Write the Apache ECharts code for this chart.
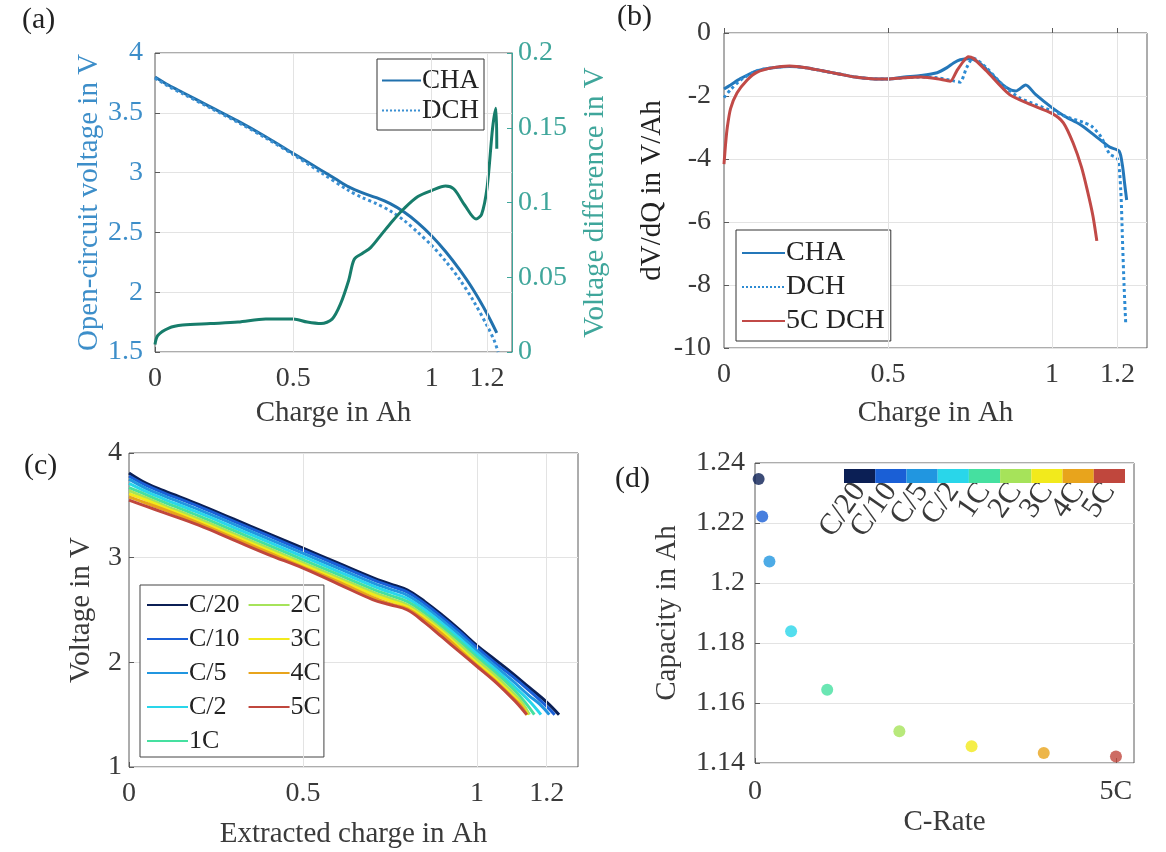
<!DOCTYPE html>
<html>
<head>
<meta charset="utf-8">
<script src="https://cdn.jsdelivr.net/npm/echarts@6/dist/echarts.min.js"></script>
<style>html,body{margin:0;padding:0;background:#fff}#c{width:1166px;height:852px}</style>
</head>
<body>
<div id="c"></div>
<script>
// ---------- Panel (a): open-circuit voltage and voltage difference ----------
const ocvCHA = [[0,3.80],[0.05,3.73],[0.1,3.67],[0.2,3.55],[0.3,3.43],[0.4,3.30],[0.5,3.16],[0.6,3.02],[0.65,2.95],[0.7,2.88],[0.75,2.83],[0.8,2.79],[0.85,2.74],[0.9,2.67],[0.95,2.58],[1.0,2.47],[1.05,2.34],[1.1,2.19],[1.15,2.02],[1.2,1.82],[1.235,1.66]];
const ocvDCH = [[0,3.79],[0.05,3.72],[0.1,3.66],[0.2,3.54],[0.3,3.42],[0.4,3.29],[0.5,3.15],[0.6,3.00],[0.7,2.85],[0.75,2.79],[0.8,2.74],[0.85,2.68],[0.9,2.60],[0.95,2.50],[1.0,2.39],[1.05,2.26],[1.1,2.11],[1.15,1.93],[1.2,1.72],[1.225,1.60],[1.24,1.50]];
const vDiff = [[0,0.005],[0.01,0.011],[0.05,0.016],[0.1,0.018],[0.2,0.019],[0.3,0.020],[0.4,0.022],[0.5,0.022],[0.55,0.020],[0.6,0.019],[0.64,0.022],[0.67,0.032],[0.7,0.048],[0.72,0.062],[0.75,0.066],[0.78,0.070],[0.82,0.079],[0.86,0.088],[0.9,0.096],[0.95,0.104],[1.0,0.108],[1.05,0.111],[1.08,0.109],[1.12,0.098],[1.16,0.089],[1.18,0.092],[1.2,0.110],[1.22,0.150],[1.232,0.163],[1.235,0.136]];
const aXTicks = [0, 0.5, 1, 1.2];

// ---------- Panel (b): dV/dQ ----------
const dvdqCHA = [[0,-1.78],[0.02,-1.65],[0.05,-1.45],[0.1,-1.2],[0.15,-1.1],[0.2,-1.06],[0.25,-1.1],[0.3,-1.2],[0.35,-1.3],[0.4,-1.4],[0.45,-1.45],[0.5,-1.46],[0.55,-1.4],[0.6,-1.35],[0.65,-1.26],[0.68,-1.1],[0.7,-0.95],[0.72,-0.85],[0.75,-0.82],[0.78,-0.95],[0.8,-1.15],[0.83,-1.45],[0.86,-1.72],[0.89,-1.84],[0.92,-1.65],[0.95,-1.95],[1.0,-2.37],[1.04,-2.65],[1.085,-2.9],[1.13,-3.25],[1.176,-3.62],[1.205,-3.75],[1.215,-4.2],[1.222,-4.8],[1.228,-5.3]];
const dvdqDCH = [[0,-2.05],[0.02,-1.8],[0.05,-1.5],[0.1,-1.2],[0.15,-1.1],[0.2,-1.06],[0.25,-1.1],[0.3,-1.2],[0.35,-1.3],[0.4,-1.4],[0.45,-1.45],[0.5,-1.46],[0.55,-1.42],[0.6,-1.4],[0.65,-1.42],[0.7,-1.52],[0.72,-1.56],[0.74,-1.1],[0.76,-0.8],[0.8,-1.1],[0.85,-1.65],[0.9,-2.05],[0.95,-2.27],[1.0,-2.47],[1.05,-2.68],[1.097,-2.84],[1.12,-2.95],[1.15,-3.3],[1.176,-3.84],[1.2,-4.0],[1.21,-5.0],[1.215,-6.5],[1.22,-8.0],[1.225,-9.2]];
const dvdq5C = [[0,-4.16],[0.005,-3.5],[0.01,-3.0],[0.02,-2.4],[0.04,-1.9],[0.07,-1.5],[0.1,-1.25],[0.15,-1.1],[0.2,-1.05],[0.25,-1.1],[0.3,-1.2],[0.35,-1.3],[0.4,-1.4],[0.45,-1.45],[0.5,-1.46],[0.55,-1.42],[0.6,-1.4],[0.65,-1.45],[0.69,-1.53],[0.71,-1.2],[0.73,-0.9],[0.745,-0.75],[0.76,-0.8],[0.8,-1.2],[0.87,-1.95],[0.93,-2.25],[1.0,-2.55],[1.035,-2.85],[1.065,-3.5],[1.09,-4.25],[1.107,-4.95],[1.125,-5.8],[1.137,-6.6]];
const bXTicks = [0, 0.5, 1, 1.2];

// ---------- Panel (c): discharge curves at different C-rates ----------
const rateNames = ['C/20','C/10','C/5','C/2','1C','2C','3C','4C','5C'];
const rateColors = ['#0b1f55','#1a5fd6','#2196e0','#29d6ea','#45e0a0','#a6e35a','#f2ea1c','#e8a41c','#c0473d'];
const vC20 = [[0,3.81],[0.05,3.71],[0.1,3.64],[0.2,3.51],[0.3,3.37],[0.4,3.23],[0.5,3.09],[0.6,2.95],[0.7,2.81],[0.75,2.75],[0.8,2.69],[0.85,2.58],[0.9,2.45],[0.95,2.31],[1.0,2.16],[1.05,2.03],[1.1,1.90],[1.15,1.76],[1.2,1.62],[1.2355,1.50]];
const vC10 = [[0,3.78],[0.05,3.69],[0.1,3.62],[0.2,3.49],[0.3,3.35],[0.4,3.21],[0.5,3.07],[0.6,2.93],[0.7,2.79],[0.75,2.73],[0.8,2.67],[0.85,2.56],[0.9,2.43],[0.95,2.29],[1.0,2.14],[1.05,2.00],[1.1,1.87],[1.15,1.73],[1.2,1.58],[1.223,1.50]];
const vC5 = [[0,3.75],[0.05,3.66],[0.1,3.59],[0.2,3.46],[0.3,3.32],[0.4,3.18],[0.5,3.04],[0.6,2.90],[0.7,2.76],[0.75,2.70],[0.8,2.64],[0.85,2.53],[0.9,2.40],[0.95,2.26],[1.0,2.11],[1.05,1.97],[1.1,1.83],[1.15,1.68],[1.18,1.60],[1.2075,1.50]];
const vC2 = [[0,3.71],[0.05,3.63],[0.1,3.56],[0.2,3.43],[0.3,3.29],[0.4,3.15],[0.5,3.01],[0.6,2.87],[0.7,2.73],[0.75,2.67],[0.8,2.61],[0.85,2.50],[0.9,2.37],[0.95,2.23],[1.0,2.08],[1.05,1.94],[1.1,1.79],[1.15,1.63],[1.1835,1.50]];
const v1C = [[0,3.67],[0.05,3.60],[0.1,3.53],[0.2,3.40],[0.3,3.26],[0.4,3.12],[0.5,2.98],[0.6,2.84],[0.7,2.70],[0.75,2.64],[0.8,2.58],[0.85,2.47],[0.9,2.34],[0.95,2.20],[1.0,2.05],[1.05,1.91],[1.1,1.76],[1.14,1.61],[1.1645,1.50]];
const v2C = [[0,3.64],[0.05,3.57],[0.1,3.50],[0.2,3.37],[0.3,3.23],[0.4,3.09],[0.5,2.95],[0.6,2.81],[0.7,2.67],[0.75,2.61],[0.8,2.55],[0.85,2.44],[0.9,2.31],[0.95,2.17],[1.0,2.02],[1.05,1.88],[1.1,1.72],[1.13,1.61],[1.1505,1.50]];
const v3C = [[0,3.61],[0.05,3.55],[0.1,3.48],[0.2,3.35],[0.3,3.21],[0.4,3.07],[0.5,2.93],[0.6,2.79],[0.7,2.65],[0.75,2.59],[0.8,2.53],[0.85,2.42],[0.9,2.29],[0.95,2.14],[1.0,1.99],[1.05,1.85],[1.1,1.69],[1.125,1.60],[1.1455,1.50]];
const v4C = [[0,3.58],[0.05,3.52],[0.1,3.46],[0.2,3.33],[0.3,3.19],[0.4,3.05],[0.5,2.91],[0.6,2.77],[0.7,2.62],[0.75,2.56],[0.8,2.51],[0.85,2.40],[0.9,2.27],[0.95,2.12],[1.0,1.97],[1.05,1.83],[1.1,1.67],[1.125,1.59],[1.1435,1.50]];
const v5C = [[0,3.55],[0.05,3.49],[0.1,3.43],[0.2,3.31],[0.3,3.17],[0.4,3.03],[0.5,2.90],[0.6,2.75],[0.7,2.60],[0.75,2.55],[0.8,2.50],[0.85,2.38],[0.9,2.24],[0.95,2.10],[1.0,1.96],[1.05,1.82],[1.1,1.66],[1.12,1.59],[1.1425,1.50]];
const cCurves = [vC20, vC10, vC5, vC2, v1C, v2C, v3C, v4C, v5C];
const cXTicks = [0, 0.5, 1, 1.2];

// ---------- Panel (d): capacity vs C-rate ----------
const cRates = [0.05, 0.1, 0.2, 0.5, 1, 2, 3, 4, 5];
const capacities = [1.2347, 1.2222, 1.2072, 1.1839, 1.1644, 1.1506, 1.1456, 1.1433, 1.1422];
const dXTicks = [0, 5];
const colorbarCells = [1,1,1,1,1,1,1,1,1];

const SERIF = '"Liberation Serif", "DejaVu Serif", serif';
const TXT = '#3a3a3a';
const GRIDC = '#e3e3e3';
const BOX = '#5a5a5a';
const FS = 28;   // tick labels
const NS = 29;   // axis names

function tickFmt(v){ return String(Math.round(v*1000)/1000); }

function gridBox(left, top, width, height){
  return {left, top, width, height, show:true, borderColor:BOX, borderWidth:1, backgroundColor:'#fff', containLabel:false};
}
function vGrid(xi, yi, vals){
  return {type:'line', xAxisIndex:xi, yAxisIndex:yi, data:[], silent:true, z:1,
    markLine:{silent:true, symbol:'none', label:{show:false}, animation:false,
      lineStyle:{color:GRIDC, type:'solid', width:1},
      data: vals.map(v => ({xAxis:v}))}};
}

const chart = echarts.init(document.getElementById('c'), null, {renderer:'canvas'});

const baseX = (gi, min, max, ticks, name, nameGap, margin) => ({
  type:'value', gridIndex:gi, min, max, interval:0.1,
  name, nameLocation:'middle', nameGap,
  nameTextStyle:{fontFamily:SERIF, fontSize:NS, color:TXT},
  axisLine:{show:false}, splitLine:{show:false},
  axisTick:{show:true, inside:true, length:5, customValues:ticks, lineStyle:{color:BOX}},
  axisLabel:{customValues:ticks, fontFamily:SERIF, fontSize:FS, color:TXT, margin, formatter:tickFmt}
});
const baseY = (gi, min, max, interval, name, nameGap, margin, color, nameColor) => ({
  type:'value', gridIndex:gi, min, max, interval, name, nameLocation:'middle', nameGap,
  nameTextStyle:{fontFamily:SERIF, fontSize:NS, color:nameColor},
  axisLine:{show:false}, axisTick:{show:true, inside:true, length:5, lineStyle:{color:BOX}},
  splitLine:{show:true, lineStyle:{color:GRIDC}},
  axisLabel:{fontFamily:SERIF, fontSize:FS, color, margin, formatter:tickFmt}
});

const legendCommon = {orient:'vertical', selectedMode:false, backgroundColor:'#fff', borderWidth:1,
  itemStyle:{opacity:0}, itemHeight:4};

const option = {
  animation:false,
  backgroundColor:'#fff',
  textStyle:{fontFamily:SERIF},
  grid:[
    gridBox(155, 53, 357, 299),   // a
    gridBox(724, 33, 423, 315),   // b
    gridBox(129, 453, 449, 314),  // c
    gridBox(755, 463, 379, 300),  // d
    {left:844, top:469, width:281, height:14, show:false} // colorbar
  ],
  graphic:[
    {type:'text', left:22, top:5, style:{text:'(a)', font:'30px '+SERIF, fill:'#222'}},
    {type:'text', left:617, top:2, style:{text:'(b)', font:'30px '+SERIF, fill:'#222'}},
    {type:'text', left:24, top:451, style:{text:'(c)', font:'30px '+SERIF, fill:'#222'}},
    {type:'text', left:615, top:464, style:{text:'(d)', font:'30px '+SERIF, fill:'#222'}}
  ],
  xAxis:[
    baseX(0, 0, 1.29, aXTicks, 'Charge in Ah', 47, 13),
    baseX(1, 0, 1.29, bXTicks, 'Charge in Ah', 51, 13),
    baseX(2, 0, 1.29, cXTicks, 'Extracted charge in Ah', 53, 13),
    Object.assign(baseX(3, 0, 5.25, dXTicks, 'C-Rate', 45, 15), {interval:1,
      axisLabel:{customValues:dXTicks, fontFamily:SERIF, fontSize:FS, color:TXT, margin:15, formatter:v => v===0?'0':v+'C'}}),
    {type:'category', gridIndex:4, data:rateNames, axisLine:{show:false}, axisTick:{show:false}, splitLine:{show:false},
      axisLabel:{rotate:55, fontFamily:SERIF, fontSize:30, color:TXT, margin:3, interval:0}}
  ],
  yAxis:[
    baseY(0, 1.5, 4, 0.5, 'Open-circuit voltage in V', 49, 12, '#3d8ec9', '#3d8ec9'),
    Object.assign(baseY(0, 0, 0.2, 0.05, 'Voltage difference in V', 69, 6, '#3fa69b', '#3fa69b'), {position:'right',
      axisLine:{show:true, lineStyle:{color:'#3fa69b'}}, axisTick:{show:true, inside:true, length:5, lineStyle:{color:'#3fa69b'}},
      splitLine:{show:false}}),
    baseY(1, -10, 0, 2, 'dV/dQ in V/Ah', 57, 13, TXT, '#222'),
    baseY(2, 1, 4, 1, 'Voltage in V', 33, 7, TXT, TXT),
    Object.assign(baseY(3, 1.14, 1.24, 0.02, 'Capacity in Ah', 73, 10, TXT, TXT),
      {axisLabel:{fontFamily:SERIF, fontSize:FS, color:TXT, margin:10, formatter:v => v.toFixed(2).replace(/0$/,'')}}),
    {type:'value', gridIndex:4, min:0, max:1, show:false}
  ],
  legend:[
    Object.assign({}, legendCommon, {left:377, top:59, borderColor:'#333',
      padding:[8,5,6,4], itemGap:3, itemWidth:39,
      textStyle:{fontFamily:SERIF, fontSize:27, color:'#222', padding:[0,0,0,-4]},
      data:[{name:'CHA'},{name:'DCH'}]}),
    Object.assign({}, legendCommon, {left:736, top:230, borderColor:'#333',
      padding:[9,6,6,5], itemGap:6, itemWidth:43,
      textStyle:{fontFamily:SERIF, fontSize:28, color:'#222', padding:[0,0,0,-4]},
      data:[{name:'CHA '},{name:'DCH '},{name:'5C DCH'}]}),
    Object.assign({}, legendCommon, {left:140, top:585, height:166, borderColor:'#444',
      padding:[7,3,3,6], itemGap:8, itemWidth:41,
      textStyle:{fontFamily:SERIF, fontSize:26, color:'#222', padding:[0,4,0,-4]},
      data:rateNames})
  ],
  series:[
    vGrid(0, 0, [0.5, 1, 1.2]),
    vGrid(1, 2, [0.5, 1, 1.2]),
    vGrid(2, 3, [0.5, 1, 1.2]),
    {name:'CHA', type:'line', xAxisIndex:0, yAxisIndex:0, data:ocvCHA, showSymbol:false, symbol:'none', smooth:0.3,
      lineStyle:{color:'#2171ad', width:3}, itemStyle:{color:'#2171ad'}, z:3},
    {name:'DCH', type:'line', xAxisIndex:0, yAxisIndex:0, data:ocvDCH, showSymbol:false, symbol:'none', smooth:0.3,
      lineStyle:{color:'#3a8fd2', width:3, type:'dotted'}, itemStyle:{color:'#3a8fd2'}, z:3},
    {name:'Voltage difference', type:'line', xAxisIndex:0, yAxisIndex:1, data:vDiff, showSymbol:false, symbol:'none', smooth:0.3,
      lineStyle:{color:'#177d6b', width:3}, z:4},
    {name:'CHA ', type:'line', xAxisIndex:1, yAxisIndex:2, data:dvdqCHA, showSymbol:false, symbol:'none', smooth:0.25,
      lineStyle:{color:'#2477b9', width:3}, itemStyle:{color:'#2477b9'}, z:3},
    {name:'DCH ', type:'line', xAxisIndex:1, yAxisIndex:2, data:dvdqDCH, showSymbol:false, symbol:'none', smooth:0.25,
      lineStyle:{color:'#2d8bd3', width:3, type:'dotted'}, itemStyle:{color:'#2d8bd3'}, z:3},
    {name:'5C DCH', type:'line', xAxisIndex:1, yAxisIndex:2, data:dvdq5C, showSymbol:false, symbol:'none', smooth:0.25,
      lineStyle:{color:'#c14a47', width:3}, itemStyle:{color:'#c14a47'}, z:4},
    ...cCurves.map((d, i) => ({name:rateNames[i], type:'line', xAxisIndex:2, yAxisIndex:3, data:d, showSymbol:false, symbol:'none', smooth:0.4,
      lineStyle:{color:rateColors[i], width:3}, itemStyle:{color:rateColors[i]}, z:3+i})),
    {name:'capacity', type:'scatter', xAxisIndex:3, yAxisIndex:4, symbolSize:12,
      data:cRates.map((r, i) => ({value:[r, capacities[i]], itemStyle:{color:rateColors[i]}})), z:5},
    {name:'colorbar', type:'bar', xAxisIndex:4, yAxisIndex:5, barWidth:'100%', barCategoryGap:'0%', silent:true,
      data:colorbarCells.map((v, i) => ({value:v, itemStyle:{color:rateColors[i]}}))}
  ]
};
chart.setOption(option);
</script>
</body>
</html>
